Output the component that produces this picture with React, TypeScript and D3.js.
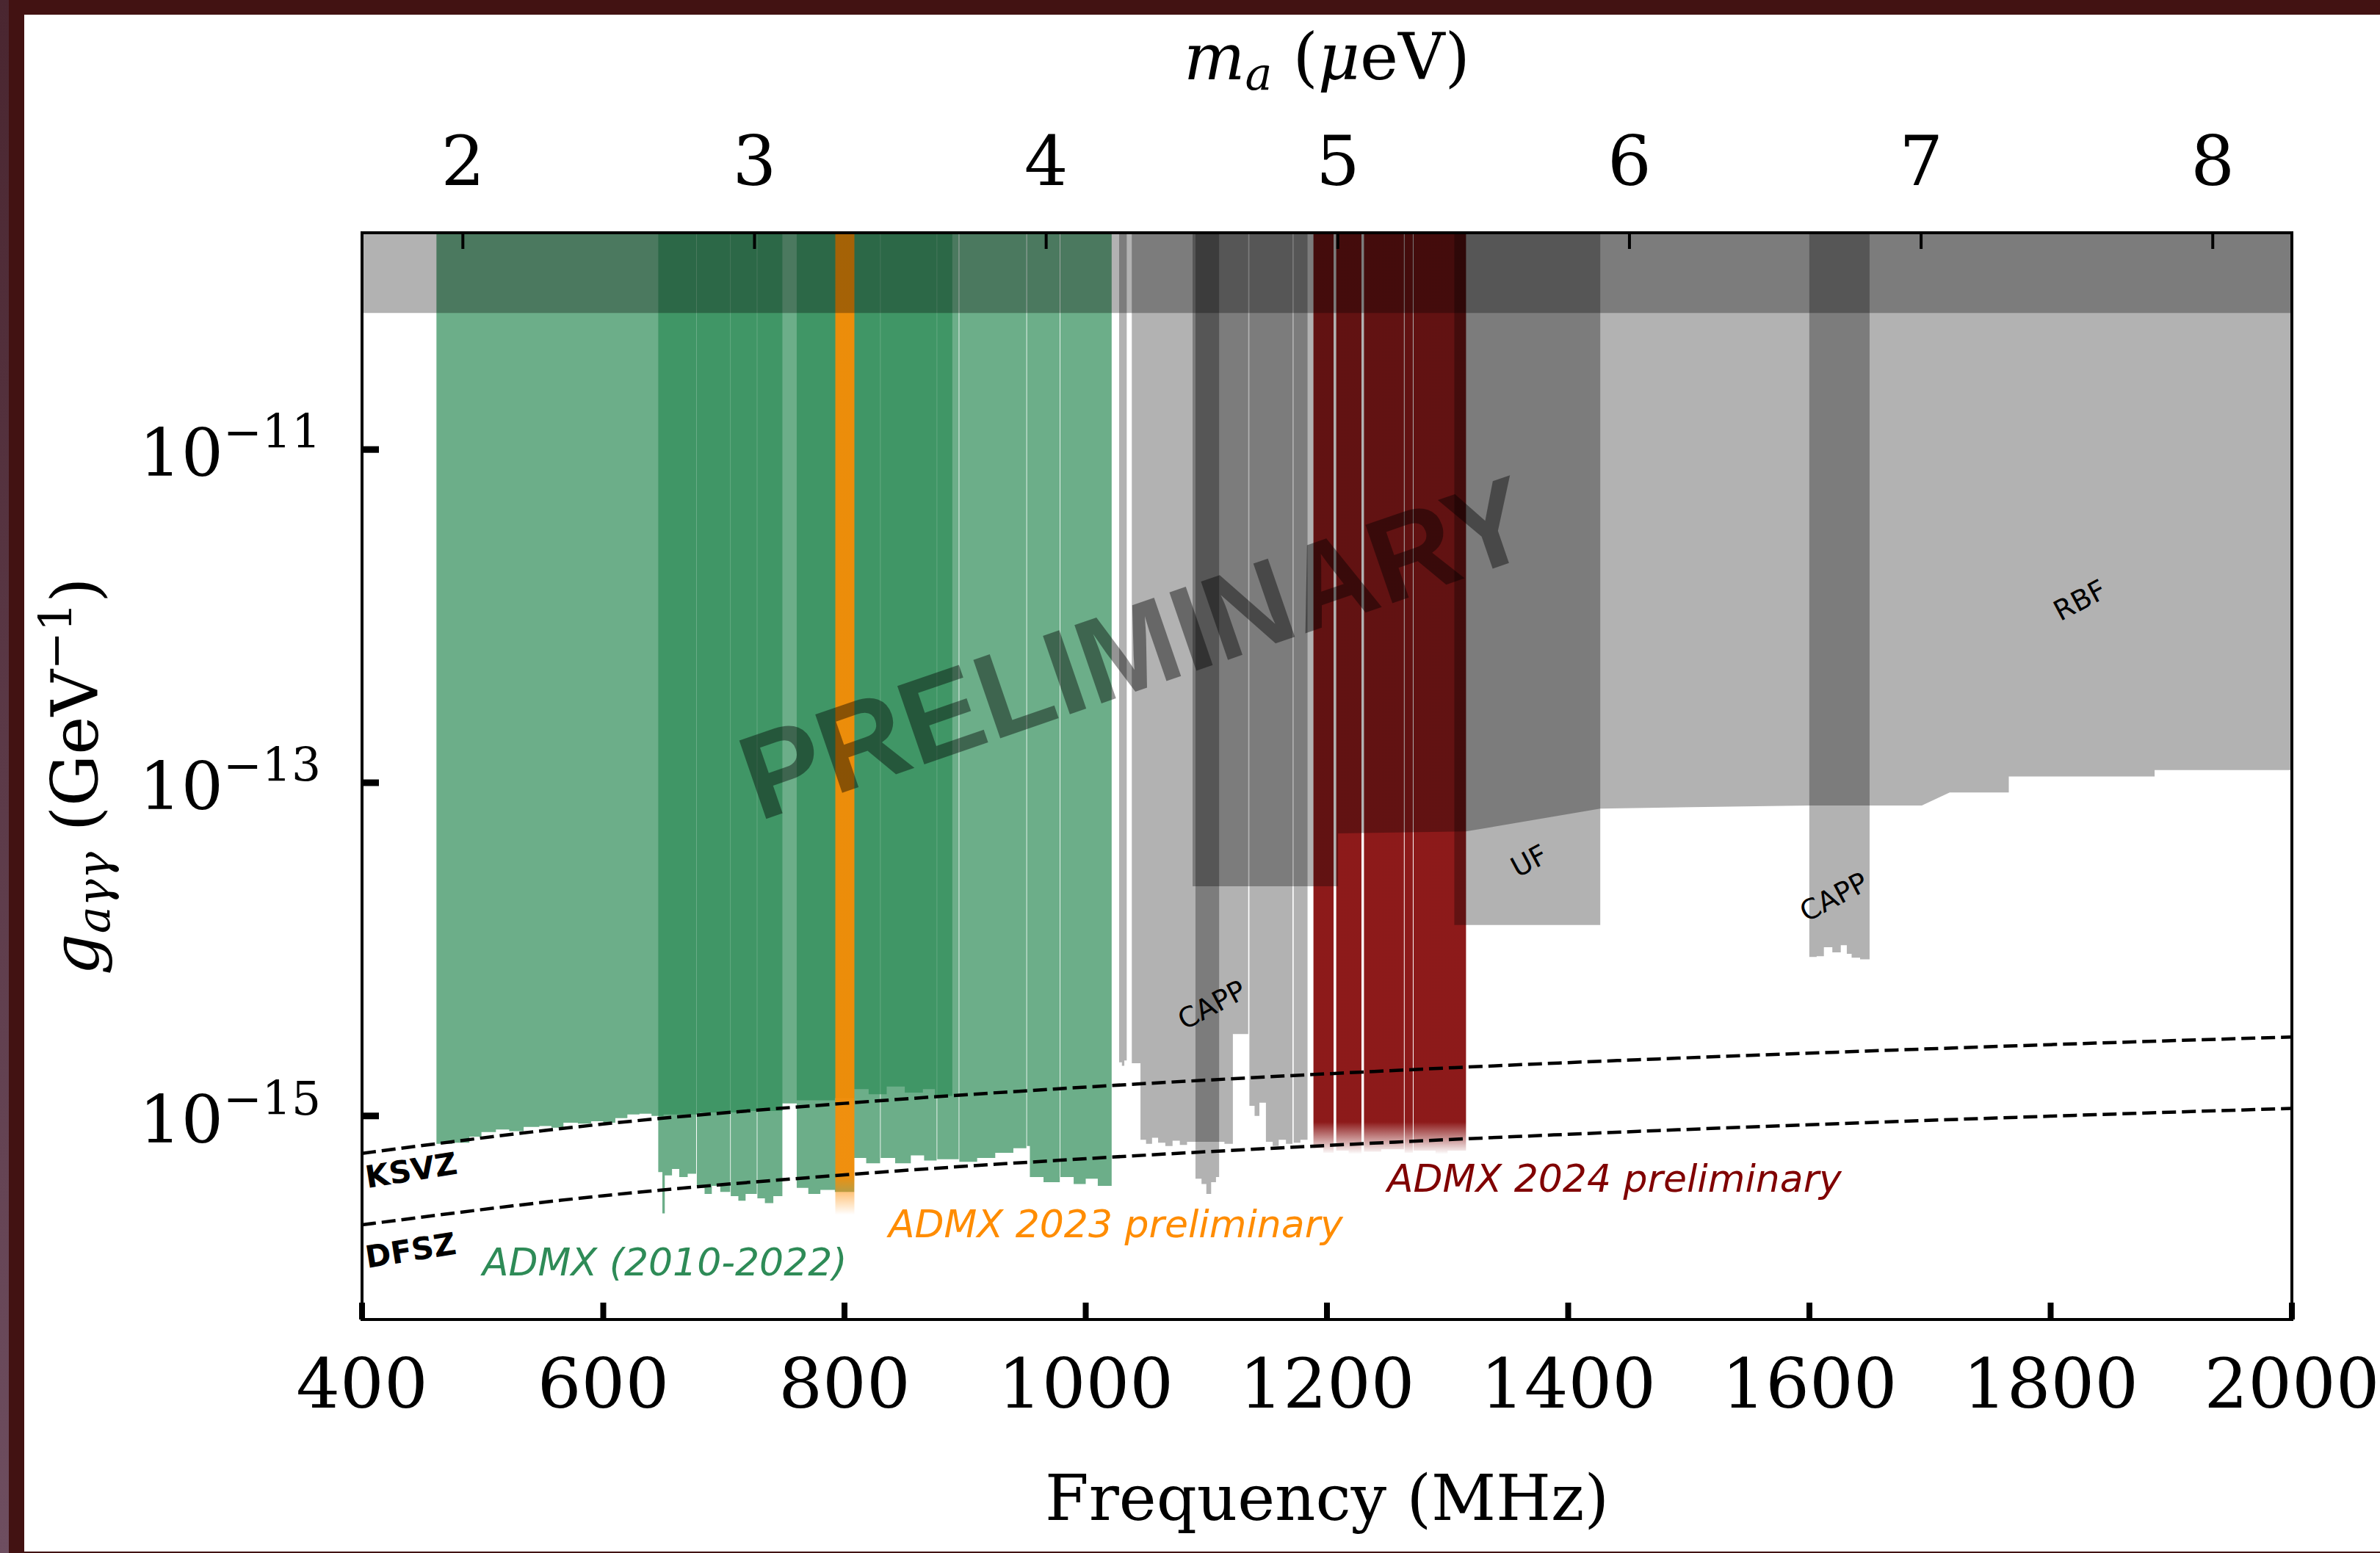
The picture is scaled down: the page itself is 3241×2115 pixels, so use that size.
import React from 'react'
import * as d3 from 'd3'

const WIDTH = 3241
const HEIGHT = 2115
const plot = { left: 493, right: 3121, top: 317, bottom: 1797 }

// axes
const freqTicks = [400, 600, 800, 1000, 1200, 1400, 1600, 1800, 2000]
const massTicks = [2, 3, 4, 5, 6, 7, 8]
const couplingTicks = [1e-11, 1e-13, 1e-15]
const couplingTickExp = ['\u221211', '\u221213', '\u221215']
const MHZ_PER_UEV = 241.8
const G_MIN = 6e-17
const G_MAX = 2e-10

// benchmark models, [MHz, g]
const ksvz = [[400, 5.96e-16], [600, 8.94e-16], [800, 1.19e-15], [1000, 1.49e-15], [1200, 1.79e-15],
  [1400, 2.09e-15], [1600, 2.38e-15], [1800, 2.68e-15], [2000, 2.98e-15]]
const dfsz = [[400, 2.22e-16], [600, 3.32e-16], [800, 4.43e-16], [1000, 5.54e-16], [1200, 6.65e-16],
  [1400, 7.76e-16], [1600, 8.86e-16], [1800, 9.97e-16], [2000, 1.11e-15]]

// exclusion regions: [MHz, lower edge of g], excluded up to the top of the plot
// ADMX (2010-2022)
const admxEarly = [[461.7, 6.8e-16], [475, 6.9e-16], [489, 7.5e-16], [499, 8.0e-16], [511, 8.3e-16], [522, 8.1e-16],
  [534, 8.6e-16], [547, 8.7e-16], [557, 8.5e-16], [567, 9.1e-16], [579, 9.0e-16], [590, 9.3e-16], [600, 9.1e-16],
  [610, 9.7e-16], [620, 1.02e-15], [630, 1.03e-15], [640, 1.0e-15], [650, 1.02e-15], [680, 1.05e-15],
  [720, 1.07e-15], [748.5, 1.19e-15], [760.4, 1.24e-15], [792, 1.28e-15], [808, 1.45e-15], [820, 1.35e-15],
  [835, 1.5e-15], [850, 1.38e-15], [865, 1.45e-15], [875, 1.32e-15], [889.4, 1.32e-15]]
const admxRun1a = [[645.6, 4.6e-16], [649, 2.6e-16], [651, 4.4e-16], [657, 4.8e-16], [663, 4.3e-16], [670, 4.5e-16], [677.0, 4.5e-16]]
const admxRun1b = [[677.6, 3.7e-16], [684, 3.4e-16], [690, 3.8e-16], [697, 3.5e-16], [705.2, 3.5e-16]]
const admxRun1c = [[705.7, 3.3e-16], [712, 3.1e-16], [718, 3.4e-16], [727.3, 3.4e-16]]
const admxRun1d = [[727.8, 3.2e-16], [734, 3.0e-16], [741, 3.3e-16], [748.5, 3.3e-16]]
const admxRun2a = [[760.4, 3.7e-16], [770, 3.4e-16], [780, 3.6e-16], [792, 3.5e-16], [808, 5.6e-16], [818, 5.2e-16], [829.5, 5.2e-16]]
const admxRun2b = [[830, 5.6e-16], [842, 5.2e-16], [855, 5.8e-16], [866, 5.4e-16], [876.4, 5.4e-16]]
const admxRun2c = [[876.9, 5.5e-16], [894.7, 5.5e-16]]
const admxRun2d = [[895.2, 5.3e-16], [910, 5.6e-16], [925, 6.0e-16], [940, 6.4e-16], [950.8, 6.4e-16]]
const admxRun2e = [[951.3, 6.6e-16], [953.7, 4.3e-16], [965, 4.0e-16], [978.5, 4.0e-16]]
const admxRun2f = [[979, 4.3e-16], [990, 3.9e-16], [1000, 4.2e-16], [1010, 3.8e-16], [1021.5, 3.8e-16]]
// ADMX 2023 preliminary
const admx2023 = [[792.4, 2.55e-16], [808.2, 2.55e-16]]
// ADMX 2024 preliminary
const admx2024a = [[1188.8, 6.4e-16], [1197, 6.0e-16], [1205.5, 6.0e-16]]
const admx2024b = [[1207.7, 6.2e-16], [1218, 5.9e-16], [1228.6, 5.9e-16]]
const admx2024c = [[1230.7, 6.1e-16], [1245, 6.3e-16], [1263.8, 6.3e-16]]
const admx2024d = [[1264.4, 6.0e-16], [1271.2, 6.0e-16]]
const admx2024e = [[1271.8, 6.2e-16], [1290, 5.4e-16], [1300, 6.2e-16], [1315.3, 6.2e-16]]
// other haloscopes / helioscope
const cast = [[400, 6.6e-11], [2000, 6.6e-11]]
const capp1 = [[1027.7, 2.1e-15], [1030, 2.0e-15], [1032, 2.15e-15], [1034, 2.15e-15]]
const capp2 = [[1038.2, 2.07e-15], [1045.4, 7.2e-16], [1050, 6.8e-16], [1055, 7.4e-16], [1060, 6.9e-16], [1066, 6.6e-16],
  [1072, 7.1e-16], [1078, 6.7e-16], [1084, 7.0e-16], [1110.6, 7.0e-16], [1115, 6.8e-16], [1122, 3.1e-15], [1134.7, 3.1e-15]]
const capp3 = [[1091, 4.2e-16], [1096, 3.9e-16], [1100, 3.4e-16], [1104, 4.0e-16], [1108, 4.3e-16], [1110.6, 4.3e-16]]
const capp4 = [[1135.7, 1.15e-15], [1140, 1.0e-15], [1144, 1.2e-15], [1149.4, 7.0e-16], [1155, 6.6e-16], [1160, 7.2e-16], [1166, 6.8e-16], [1171.4, 6.8e-16]]
const capp5 = [[1172.4, 6.9e-16], [1178, 7.2e-16], [1183.9, 7.2e-16]]
const capp6 = [[1599.9, 9.0e-15], [1606, 9.1e-15], [1612, 1.03e-14], [1619, 9.6e-15], [1626, 1.06e-14], [1631, 9.4e-15],
  [1635, 8.9e-15], [1642, 8.7e-15], [1649.9, 8.7e-15]]
const uf = [[1305.6, 1.4e-14], [1426.6, 1.4e-14]]
const rbf = [[1088.6, 2.39e-14], [1209.2, 2.39e-14], [1209.2, 4.96e-14], [1315.3, 5.1e-14], [1426.6, 7.0e-14],
  [1599.7, 7.3e-14], [1693.2, 7.3e-14], [1716.3, 8.74e-14], [1765.3, 8.74e-14], [1765.3, 1.09e-13],
  [1886.2, 1.09e-13], [1886.2, 1.19e-13], [2000, 1.19e-13]]

const serif = "'DejaVu Serif', serif"
const sans = "'DejaVu Sans', sans-serif"

const x = d3.scaleLinear().domain([400, 2000]).range([plot.left, plot.right])
const xMass = d3.scaleLinear().domain([400 / MHZ_PER_UEV, 2000 / MHZ_PER_UEV]).range([plot.left, plot.right])
const y = d3.scaleLog().domain([G_MIN, G_MAX]).range([plot.bottom, plot.top])

const stepArea = d3.area<number[]>()
  .x(d => x(d[0])).y0(y(G_MAX)).y1(d => y(d[1]))
  .curve(d3.curveStepAfter)
const flatArea = d3.area<number[]>()
  .x(d => x(d[0])).y0(y(G_MAX)).y1(d => y(d[1]))
const theoryLine = d3.line<number[]>()
  .x(d => x(d[0])).y(d => y(d[1]))
  .curve(d3.curveMonotoneX)

const greens = [admxEarly, admxRun1a, admxRun1b, admxRun1c, admxRun1d, admxRun2a, admxRun2b,
  admxRun2c, admxRun2d, admxRun2e, admxRun2f]
const reds = [admx2024a, admx2024b, admx2024c, admx2024d, admx2024e]
const grays = [capp1, capp2, capp3, capp4, capp5, capp6, uf]

function Tag({ cx, cy, text, angle = -28 }) {
  return (
    <text transform={`translate(${cx},${cy}) rotate(${angle})`} textAnchor="middle" dy="0.36em"
      fontFamily={sans} fontSize={38} fill="#000">{text}</text>
  )
}

export default function App() {
  return (
    <div style={{ position: 'absolute', left: 0, top: 0 }}>
      <svg width={WIDTH} height={HEIGHT} style={{ display: 'block' }}>
        <defs>
          <clipPath id="plotClip">
            <rect x={plot.left} y={plot.top} width={plot.right - plot.left} height={plot.bottom - plot.top} />
          </clipPath>
          <linearGradient id="edgeGrad" x1="0" y1="0" x2="0" y2="1">
            <stop offset="0" stopColor="#4a2630" />
            <stop offset="1" stopColor="#6e4e60" />
          </linearGradient>
          <linearGradient id="fade2023" gradientUnits="userSpaceOnUse" x1="0" x2="0" y1={y(4.4e-16)} y2={y(2.55e-16)}>
            <stop offset="0" stopColor="#ff8c00" stopOpacity={0.9} />
            <stop offset="1" stopColor="#ff8c00" stopOpacity={0} />
          </linearGradient>
          <linearGradient id="fade2024" gradientUnits="userSpaceOnUse" x1="0" x2="0" y1={y(9.2e-16)} y2={y(5.9e-16)}>
            <stop offset="0" stopColor="#800000" stopOpacity={0.9} />
            <stop offset="1" stopColor="#800000" stopOpacity={0} />
          </linearGradient>
        </defs>

        {/* slide frame */}
        <rect width={WIDTH} height={HEIGHT} fill="#421212" />
        <rect width={12} height={HEIGHT} fill="url(#edgeGrad)" />
        <rect x={33} y={20} width={WIDTH - 33} height={HEIGHT - 22} fill="#fff" />

        <g clipPath="url(#plotClip)">
          {greens.map((d, i) => (
            <path key={'g' + i} d={stepArea(d)} fill="#2e8b57" fillOpacity={0.7} />
          ))}
          <path d={stepArea(admx2023)} fill="url(#fade2023)" />
          {reds.map((d, i) => (
            <path key={'r' + i} d={stepArea(d)} fill="url(#fade2024)" />
          ))}
          {grays.map((d, i) => (
            <path key={'k' + i} d={stepArea(d)} fill="#000" fillOpacity={0.3} />
          ))}
          <path d={flatArea(rbf)} fill="#000" fillOpacity={0.3} />
          <path d={flatArea(cast)} fill="#000" fillOpacity={0.3} />

          <path d={theoryLine(ksvz)} fill="none" stroke="#000" strokeWidth={4.5} strokeDasharray="19 8" />
          <path d={theoryLine(dfsz)} fill="none" stroke="#000" strokeWidth={4.5} strokeDasharray="19 8" />

          <text transform="translate(1545,880) rotate(-19)" textAnchor="middle" dy="0.36em"
            fontFamily="'Liberation Sans', Arial, sans-serif" fontWeight="bold" fontSize={164}
            fill="#000" fillOpacity={0.42}>PRELIMINARY</text>
        </g>

        {/* region labels */}
        <Tag cx={1650} cy={1368} text="CAPP" />
        <Tag cx={2082} cy={1172} text="UF" />
        <Tag cx={2497} cy={1221} text="CAPP" />
        <Tag cx={2832} cy={817} text="RBF" />
        <text transform="translate(500,1618) rotate(-9)" fontFamily={sans} fontWeight="bold" fontSize={42}>KSVZ</text>
        <text transform="translate(500,1727) rotate(-9)" fontFamily={sans} fontWeight="bold" fontSize={42}>DFSZ</text>
        <text x={657} y={1737} fontFamily={sans} fontStyle="italic" fontSize={52} fill="#2e8b57">ADMX (2010-2022)</text>
        <text x={1210} y={1685} fontFamily={sans} fontStyle="italic" fontSize={52} fill="#ff8c00">ADMX 2023 preliminary</text>
        <text x={1889} y={1623} fontFamily={sans} fontStyle="italic" fontSize={52} fill="#800000">ADMX 2024 preliminary</text>

        {/* axes frame */}
        <rect x={plot.left} y={plot.top} width={plot.right - plot.left} height={plot.bottom - plot.top}
          fill="none" stroke="#000" strokeWidth={4} />
        {freqTicks.map(f => (
          <g key={'xt' + f}>
            <line x1={x(f)} x2={x(f)} y1={plot.bottom} y2={plot.bottom - 23} stroke="#000" strokeWidth={8} />
            <text x={x(f)} y={1917} textAnchor="middle" fontFamily={serif} fontSize={94}>{f}</text>
          </g>
        ))}
        {massTicks.map(m => (
          <g key={'mt' + m}>
            <line x1={xMass(m)} x2={xMass(m)} y1={plot.top} y2={plot.top + 22} stroke="#000" strokeWidth={4} />
            <text x={xMass(m)} y={252} textAnchor="middle" fontFamily={serif} fontSize={94}>{m}</text>
          </g>
        ))}
        {couplingTicks.map((g, i) => (
          <g key={'yt' + i}>
            <line x1={plot.left} x2={plot.left + 23} y1={y(g)} y2={y(g)} stroke="#000" strokeWidth={9} />
            <text x={437} y={y(g) + 36} textAnchor="end" fontFamily={serif} fontSize={90}>
              10<tspan fontSize={63} dy={-38}>{couplingTickExp[i]}</tspan>
            </text>
          </g>
        ))}

        {/* axis titles */}
        <text x={(plot.left + plot.right) / 2} y={2070} textAnchor="middle" fontFamily={serif} fontSize={86}>
          Frequency (MHz)
        </text>
        <text x={(plot.left + plot.right) / 2} y={108} textAnchor="middle" fontFamily={serif} fontSize={88}>
          <tspan fontStyle="italic">m</tspan>
          <tspan fontStyle="italic" fontSize={62} dy={14}>a</tspan>
          <tspan dy={-14}> (</tspan>
          <tspan fontStyle="italic">{'\u03bc'}</tspan>
          <tspan>eV)</tspan>
        </text>
        <text transform={`translate(133,${(plot.top + plot.bottom) / 2}) rotate(-90)`} textAnchor="middle"
          fontFamily={serif} fontSize={88}>
          <tspan fontStyle="italic">g</tspan>
          <tspan fontStyle="italic" fontSize={62} dy={16}>{'a\u03b3\u03b3'}</tspan>
          <tspan dy={-16}> (GeV</tspan>
          <tspan fontSize={62} dy={-36}>{'\u22121'}</tspan>
          <tspan dy={36}>)</tspan>
        </text>
      </svg>
    </div>
  )
}
